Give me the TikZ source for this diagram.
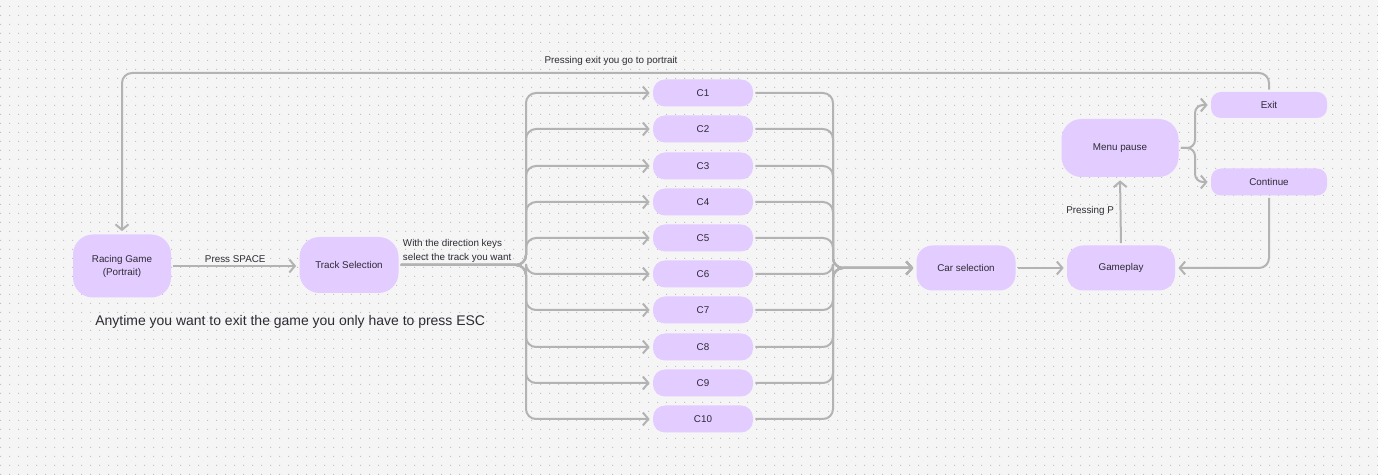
\documentclass[tikz,border=0pt]{standalone}
\usepackage{fontspec}
\setmainfont{Liberation Sans}
\usetikzlibrary{arrows.meta}
\usetikzlibrary{patterns.meta}
\definecolor{boxlila}{HTML}{E3CCFF}
\definecolor{pfeilgrau}{HTML}{B3B3B3}
\definecolor{hintergrund}{HTML}{F5F5F5}
\definecolor{punktgrau}{HTML}{C2C2C2}
\definecolor{textgrau}{HTML}{2E2A33}
\newcommand{\pxu}{0.02cm}

% Punktraster des Hintergrunds
\tikzdeclarepattern{
  name=rasterpunkte, type=uncolored,
  bounding box={(0,0) and (0.18cm,0.18cm)},
  tile size={(0.18cm,0.18cm)},
  code={\fill (0,0) rectangle (0.025cm,0.025cm);}
}

\tikzset{
  box/.style={fill=boxlila, text=textgrau, align=center, inner sep=0pt,
    font=\fontsize{5.6}{7.4}\selectfont},
  hinweistext/.style={text=textgrau, inner sep=1.5pt,
    font=\fontsize{5.6}{7.6}\selectfont},
  flow/.style={draw=pfeilgrau, line width=0.04cm, rounded corners=10*\pxu,
    shorten <=2*\pxu, shorten >=3*\pxu,
    -{Straight Barb[length=0.11cm, width=0.26cm]}},
}

\begin{document}
\begin{tikzpicture}[x=\pxu, y=-\pxu] % Pixelkoordinaten, y nach unten

    % Hintergrund mit Punktraster
    \fill[hintergrund] (0,0) rectangle (1378,475);
    \fill[pattern=rasterpunkte, pattern color=punktgrau] (0,0) rectangle (1378,475);
    \useasboundingbox (0,0) rectangle (1378,475);

    % Hauptknoten
    \node[box, minimum width=98*\pxu, minimum height=63*\pxu, rounded corners=20*\pxu]
        (racing) at (122,266) {Racing Game\\(Portrait)};
    \node[box, minimum width=99*\pxu, minimum height=56*\pxu, rounded corners=20*\pxu]
        (track) at (349,265) {Track Selection};
    \node[box, minimum width=99*\pxu, minimum height=45*\pxu, rounded corners=16*\pxu]
        (car) at (966,268) {Car selection};
    \node[box, minimum width=108*\pxu, minimum height=45*\pxu, rounded corners=16*\pxu]
        (gameplay) at (1121,268) {Gameplay};
    \node[box, minimum width=117*\pxu, minimum height=58*\pxu, rounded corners=20*\pxu]
        (menupause) at (1120,148) {Menu pause};
    \node[box, minimum width=116*\pxu, minimum height=26*\pxu, rounded corners=10*\pxu]
        (exit) at (1269,105) {Exit};
    \node[box, minimum width=116*\pxu, minimum height=27*\pxu, rounded corners=10*\pxu]
        (continue) at (1269,182) {Continue};

    % Strecken C1 bis C10
    \foreach \k/\y in {1/93, 2/129, 3/166, 4/202, 5/238, 6/274, 7/310, 8/347, 9/383, 10/419} {
        \node[box, minimum width=100*\pxu, minimum height=27*\pxu, rounded corners=12*\pxu]
            (c\k) at (703,\y) {C\k};
    }

    % Verzweigungspunkte
    \coordinate (teilung) at (526,265);
    \coordinate (sammel) at (833,268);
    \coordinate (gabel) at (1195,148);
    \coordinate (oben) at (0,73);

    % Pfeile
    \draw[flow] (racing.east) -- (racing.east -| track.west)
        node[midway, above, hinweistext] {Press SPACE};
    \foreach \k in {1,...,10} {
        \draw[flow] (track.east) -- (teilung) |- (c\k.west);
        \draw[flow] (c\k.east) -| (sammel) -- (car.west);
    }
    \node[hinweistext, anchor=west, align=left, font=\fontsize{5.6}{8}\selectfont]
        (richtung) at (400,251) {With the direction keys\\select the track you want};
    \draw[flow] (car.east) -- (gameplay.west);
    \draw[flow] (gameplay.north) -- (menupause.south)
        node[midway, left=3*\pxu, hinweistext] {Pressing P};
    \draw[flow, rounded corners=8*\pxu] (menupause.east) -- (gabel) |- (exit.west);
    \draw[flow, rounded corners=8*\pxu] (menupause.east) -- (gabel) |- (continue.west);
    \draw[flow] (continue.south) |- (gameplay.east);
    \draw[flow] (exit.north) -- (exit.north |- oben) -| (racing.north);
    \node[hinweistext] (zurueck) at (611,61) {Pressing exit you go to portrait};

    % Hinweis unten links
    \node[text=textgrau, anchor=west, inner sep=0pt, font=\fontsize{7.95}{10}\selectfont]
        (esc) at (95,322) {Anytime you want to exit the game you only have to press ESC};
\end{tikzpicture}
\end{document}
